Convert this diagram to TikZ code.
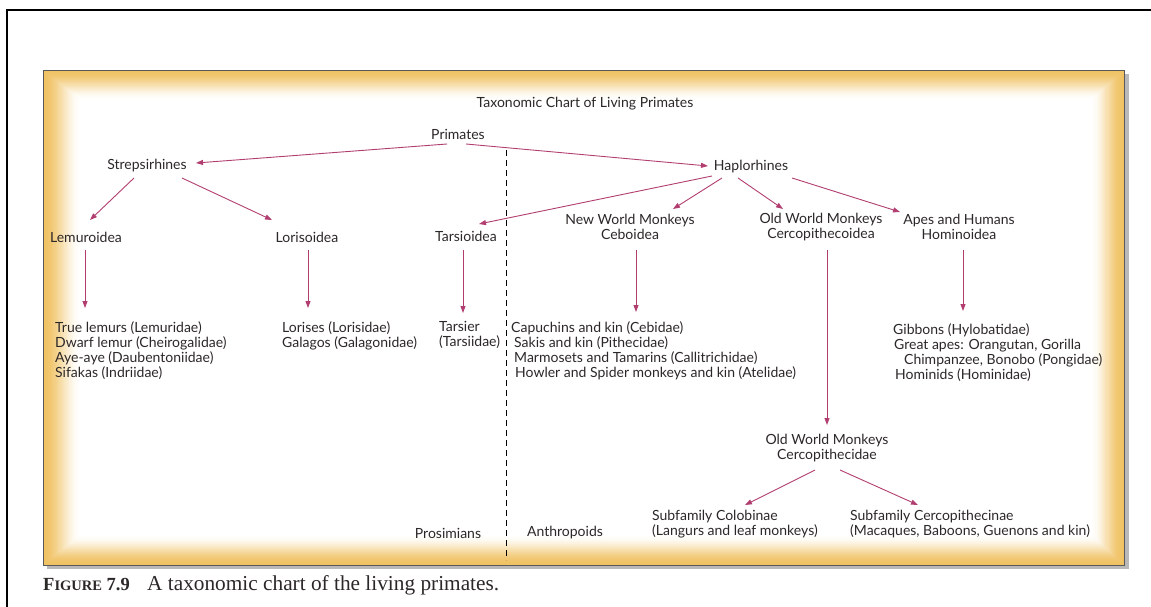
\documentclass[tikz,border=0pt]{standalone}
\usepackage{fontspec}
\setmainfont{Lato}
\newfontfamily\capfont{Liberation Serif}
\usetikzlibrary{arrows.meta,calc}
\definecolor{gold}{RGB}{240,194,100}
\definecolor{txt}{RGB}{45,40,40}
\definecolor{arr}{RGB}{178,62,112}
\begin{document}
\begin{tikzpicture}[x=1pt,y=-1pt,
  lbl/.style={font=\fontsize{14}{15.3}\selectfont, text=txt, inner sep=0pt, align=center},
  lst/.style={font=\fontsize{14}{15.3}\selectfont, text=txt, inner sep=0pt, align=left, anchor=north west},
  conn/.style={draw=arr, line width=0.9pt, -{Triangle[length=7pt,width=5pt]}}]
\useasboundingbox (0,0) rectangle (1151,607);
\fill[white] (0,0) rectangle (1151,607);
% outer frame
\draw[line width=2.5pt] (7,607) -- (7,10) -- (1151,10);
% panel shadow and gradient
\fill[gray!55] (47,74) rectangle (1129,569);
\foreach \i in {0,...,30}{
  \pgfmathsetmacro\t{\i/30}
  \pgfmathsetmacro\p{100*(1-3*\t*\t+2*\t*\t*\t)}
  \fill[gold!\p!white] (43+\i*1.25,70+\i*1.0) rectangle (1124-\i*1.1,565-\i*1.0);
}
\draw[gray!70!black, line width=0.5pt] (43,70) rectangle (1124,565);
% dashed divider
\draw[line width=0.8pt, dash pattern=on 6pt off 4pt] (506,150) -- (506,560);
% nodes
\node[lbl] (title) at (585,104) {Taxonomic Chart of Living Primates};
\node[lbl] (prim) at (458,134) {Primates};
\node[lbl] (strep) at (147,166) {Strepsirhines};
\node[lbl] (hap) at (751,167) {Haplorhines};
\node[lbl] (lem) at (86,237) {Lemuroidea};
\node[lbl] (lor) at (307,237) {Lorisoidea};
\node[lbl] (tar) at (466,236) {Tarsioidea};
\node[lbl] (nwm) at (630,227) {New World Monkeys\\Ceboidea};
\node[lbl] (owm) at (821,227) {Old World Monkeys\\Cercopithecoidea};
\node[lbl] (ape) at (959,227) {Apes and Humans\\Hominoidea};
\node[lbl] (owf) at (827,448) {Old World Monkeys\\Cercopithecidae};
\node[lst] (lemlist) at (55,321) {True lemurs (Lemuridae)\\Dwarf lemur (Cheirogalidae)\\Aye-aye (Daubentoniidae)\\Sifakas (Indriidae)};
\node[lst] (lorlist) at (282,321) {Lorises (Lorisidae)\\Galagos (Galagonidae)};
\node[lst] (tarlist) at (439,321) {Tarsier\\(Tarsiidae)};
\node[lst] (nwmlist) at (511,321) {Capuchins and kin (Cebidae)\\\hspace*{3pt}Sakis and kin (Pithecidae)\\\hspace*{3pt}Marmosets and Tamarins (Callitrichidae)\\\hspace*{4pt}Howler and Spider monkeys and kin (Atelidae)};
\node[lst] (apelist) at (893,323) {Gibbons (Hylobatidae)\\\hspace*{1pt}Great apes: Orangutan, Gorilla\\\hspace*{11pt}Chimpanzee, Bonobo (Pongidae)\\\hspace*{2pt}Hominids (Hominidae)};
\node[lst] (colob) at (652,510) {Subfamily Colobinae\\(Langurs and leaf monkeys)};
\node[lst] (cerc) at (850,510) {Subfamily Cercopithecinae\\(Macaques, Baboons, Guenons and kin)};
\node[lbl] (pros) at (448,533) {Prosimians};
\node[lbl] (anth) at (565,533) {Anthropoids};
\node[anchor=base west, inner sep=0pt, font=\capfont\fontsize{21.3}{23}\selectfont, text=txt] (cap) at (43,590)
  {\makebox[104pt][l]{\fontsize{18.5}{20}\selectfont\bfseries F{\fontsize{14.5}{16}\selectfont IGURE} 7.9}A taxonomic chart of the living primates.};
% connectors
\draw[conn] ($(prim)+(-11,10)$) -- ($(strep)+(49,-3)$);
\draw[conn] ($(prim)+(8,10)$) -- ($(hap)+(-43,-1)$);
\draw[conn] ($(strep)+(-13,12)$) -- ($(lem)+(4,-17)$);
\draw[conn] ($(strep)+(35,12)$) -- ($(lor)+(-35,-17)$);
\draw[conn] ($(hap)+(-39,9)$) -- ($(tar)+(13,-12)$);
\draw[conn] ($(hap)+(-29,11)$) -- ($(nwm)+(43,-18)$);
\draw[conn] ($(hap)+(-13,11)$) -- ($(owm)+(-38,-18)$);
\draw[conn] ($(hap)+(41,11)$) -- ($(ape)+(-59,-15)$);
\draw[conn] ($(lem)+(-1,13)$) -- ($(lem)+(-1,71)$);
\draw[conn] ($(lor)+(1,13)$) -- ($(lor)+(1,71)$);
\draw[conn] ($(tar)+(-3,14)$) -- ($(tar)+(-3,77)$);
\draw[conn] ($(nwm)+(6,23)$) -- ($(nwm)+(6,85)$);
\draw[conn] ($(owm)+(6,23)$) -- ($(owf)+(0,-23)$);
\draw[conn] ($(ape)+(4,23)$) -- ($(ape)+(4,84)$);
\draw[conn] ($(owf)+(-12,22)$) -- ($(colob.north west)+(93,-5)$);
\draw[conn] ($(owf)+(13,22)$) -- ($(cerc.north west)+(68,-5)$);
\end{tikzpicture}
\end{document}
